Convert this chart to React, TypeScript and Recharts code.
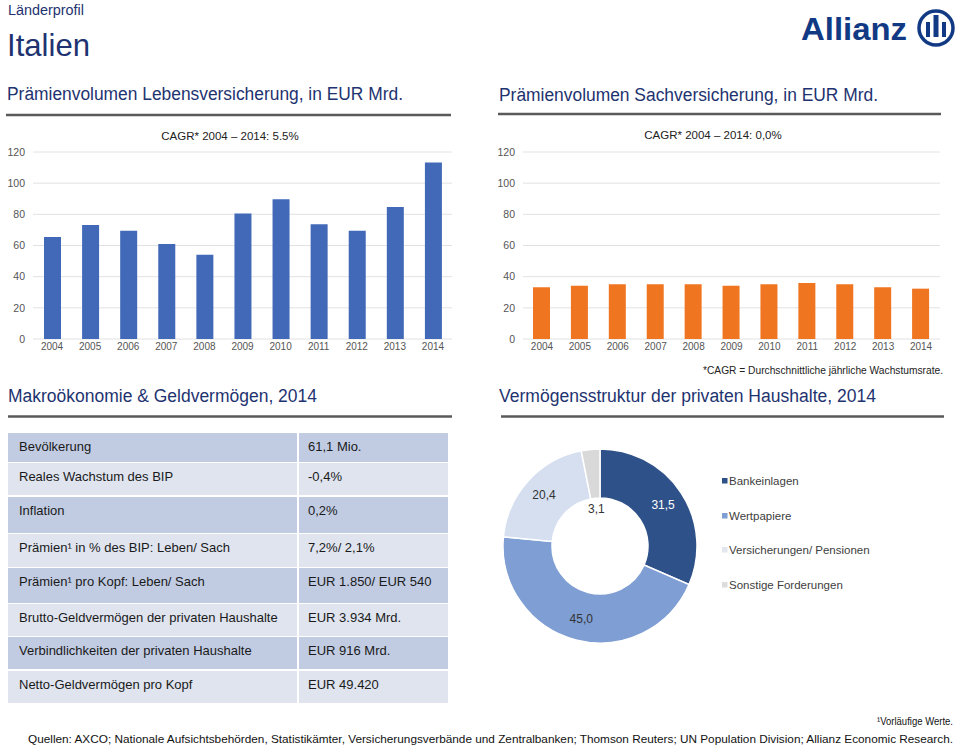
import React from 'react';
import { BarChart, Bar, XAxis, YAxis, CartesianGrid, PieChart, Pie, Cell } from 'recharts';

// ---------- data ----------
const years = ['2004', '2005', '2006', '2007', '2008', '2009', '2010', '2011', '2012', '2013', '2014'];
const lifePremiums = [65.5, 73.2, 69.5, 61.0, 54.1, 80.6, 89.6, 73.6, 69.5, 84.7, 113.2];
const propertyPremiums = [33.2, 34.2, 35.1, 35.1, 35.1, 34.2, 35.1, 35.9, 35.1, 33.2, 32.3];
const yTicks = [0, 20, 40, 60, 80, 100, 120];

const assetNames = ['Bankeinlagen', 'Wertpapiere', 'Versicherungen/ Pensionen', 'Sonstige Forderungen'];
const assetShares = [31.5, 45.0, 20.4, 3.1];
const assetColors = ['#2f5189', '#7f9ed4', '#d5dff0', '#d9d9d9'];
const legendSquareColors = ['#2f5189', '#7f9ed4', '#e2e6ee', '#dcdcdc'];
const assetLabelColors = ['#ffffff', '#333333', '#333333', '#333333'];

const tableLabels = [
  'Bevölkerung',
  'Reales Wachstum des BIP',
  'Inflation',
  'Prämien¹ in % des BIP: Leben/ Sach',
  'Prämien¹ pro Kopf: Leben/ Sach',
  'Brutto-Geldvermögen der privaten Haushalte',
  'Verbindlichkeiten der privaten Haushalte',
  'Netto-Geldvermögen pro Kopf',
];
const tableValues = [
  '61,1 Mio.',
  '-0,4%',
  '0,2%',
  '7,2%/ 2,1%',
  'EUR 1.850/ EUR 540',
  'EUR 3.934 Mrd.',
  'EUR 916 Mrd.',
  'EUR 49.420',
];

// ---------- layout / style ----------
const FONT = "'Liberation Sans', Arial, Helvetica, sans-serif";
const NAVY = '#1e3370';
const RULE = '#5a5a5a';
const rowTops = [433, 463, 497, 534, 568, 604, 637, 671];
const rowHeights = [29, 32, 36, 33, 35, 32, 32, 32];
const legendTops = [481, 516, 550, 585];

const lifeData = years.map((y, i) => ({ year: y, value: lifePremiums[i] }));
const propData = years.map((y, i) => ({ year: y, value: propertyPremiums[i] }));
const pieData = assetNames.map((n, i) => ({ name: n, value: assetShares[i] }));

const RAD = Math.PI / 180;
const renderPieLabel = (props: any) => {
  const { cx, cy, midAngle, innerRadius, outerRadius, value, index } = props;
  const r = value < 5 ? innerRadius - 11 : (innerRadius + outerRadius) / 2 + 3;
  const x = cx + r * Math.cos(-midAngle * RAD);
  const y = cy + r * Math.sin(-midAngle * RAD);
  return (
    <text
      x={x}
      y={y}
      textAnchor="middle"
      dominantBaseline="central"
      fill={assetLabelColors[index]}
      fontSize={12}
      fontFamily={FONT}
    >
      {Number(value).toFixed(1).replace('.', ',')}
    </text>
  );
};

const tickStyle = { fill: '#555555', fontSize: 10.5, fontFamily: FONT };
const xTickStyle = { fill: '#555555', fontSize: 10, fontFamily: FONT };

function PremiumChart({ data, color, left }: { data: any[]; color: string; left: number }) {
  return (
    <div style={{ position: 'absolute', left, top: 120 }}>
      <BarChart width={460} height={240} data={data} margin={{ top: 32, right: left > 0 ? 10 : 8, left: 0, bottom: 0 }}>
        <CartesianGrid vertical={false} stroke="#e2e2e2" />
        <XAxis
          dataKey="year"
          axisLine={false}
          tickLine={false}
          tickSize={0}
          tickMargin={4}
          height={21}
          interval={0}
          tick={xTickStyle}
        />
        <YAxis
          domain={[0, 120]}
          ticks={yTicks}
          axisLine={false}
          tickLine={false}
          width={33}
          tick={tickStyle}
        />
        <Bar dataKey="value" fill={color} barSize={17} isAnimationActive={false} />
      </BarChart>
    </div>
  );
}

export default function App() {
  return (
    <div
      style={{
        position: 'absolute',
        left: 0,
        top: 0,
        width: 960,
        height: 747,
        background: '#ffffff',
        fontFamily: FONT,
        overflow: 'hidden',
      }}
    >
      <svg width={960} height={747} style={{ position: 'absolute', left: 0, top: 0 }} fontFamily={FONT}>
        {/* Header */}
        <text x={8} y={10} dominantBaseline="central" fontSize={14} fill={NAVY} textLength={76} lengthAdjust="spacingAndGlyphs">
          Länderprofil
        </text>
        <text x={7} y={56} fontSize={32} fill={NAVY} textLength={83} lengthAdjust="spacingAndGlyphs">
          Italien
        </text>

        {/* Allianz logo */}
        <text x={801} y={40} fontSize={32} fontWeight="bold" fill="#123a84" textLength={106} lengthAdjust="spacingAndGlyphs">
          Allianz
        </text>
        <circle cx={936} cy={28} r={17} fill="none" stroke="#123a84" strokeWidth={3.5} />
        <rect x={926} y={22} width={4} height={15} fill="#123a84" />
        <rect x={933.5} y={15} width={5} height={22} fill="#123a84" />
        <rect x={942} y={22} width={4} height={15} fill="#123a84" />

        {/* Section titles */}
        <text x={7} y={94} dominantBaseline="central" fontSize={18} fill={NAVY} textLength={396} lengthAdjust="spacingAndGlyphs">
          Prämienvolumen Lebensversicherung, in EUR Mrd.
        </text>
        <text x={499} y={95} dominantBaseline="central" fontSize={18} fill={NAVY} textLength={379} lengthAdjust="spacingAndGlyphs">
          Prämienvolumen Sachversicherung, in EUR Mrd.
        </text>
        <line x1={6} x2={451} y1={115} y2={115} stroke={RULE} strokeWidth={2.5} />
        <line x1={498} x2={941} y1={114} y2={114} stroke={RULE} strokeWidth={2.5} />

        {/* CAGR chart titles */}
        <text x={230} y={136} textAnchor="middle" dominantBaseline="central" fontSize={11.5} fill="#222">
          CAGR* 2004 – 2014: 5.5%
        </text>
        <text x={713} y={135} textAnchor="middle" dominantBaseline="central" fontSize={11.5} fill="#222">
          CAGR* 2004 – 2014: 0,0%
        </text>

        <text x={703} y={370} dominantBaseline="central" fontSize={10} fill="#222" textLength={240} lengthAdjust="spacingAndGlyphs">
          *CAGR = Durchschnittliche jährliche Wachstumsrate.
        </text>

        <text x={8} y={396} dominantBaseline="central" fontSize={18} fill={NAVY} textLength={309} lengthAdjust="spacingAndGlyphs">
          Makroökonomie &amp; Geldvermögen, 2014
        </text>
        <text x={499} y={396} dominantBaseline="central" fontSize={18} fill={NAVY} textLength={377} lengthAdjust="spacingAndGlyphs">
          Vermögensstruktur der privaten Haushalte, 2014
        </text>
        <line x1={8} x2={452} y1={416.5} y2={416.5} stroke={RULE} strokeWidth={2.5} />
        <line x1={501} x2={944} y1={416.5} y2={416.5} stroke={RULE} strokeWidth={2.5} />

        {/* Table */}
        {tableLabels.map((lab, i) => {
          const top = rowTops[i];
          const h = rowHeights[i];
          const fill = i % 2 === 0 ? '#c1cce3' : '#dfe4ef';
          return (
            <g key={lab}>
              <rect x={8} y={top} width={289} height={h} fill={fill} />
              <rect x={299} y={top} width={149} height={h} fill={fill} />
              <text x={19} y={top + 13} dominantBaseline="central" fontSize={13} fill="#1a1a1a">
                {lab}
              </text>
              <text x={308} y={top + 13} dominantBaseline="central" fontSize={13} fill="#1a1a1a">
                {tableValues[i]}
              </text>
            </g>
          );
        })}

        {/* Donut legend */}
        {assetNames.map((n, i) => (
          <g key={n}>
            <rect x={722} y={legendTops[i] - 3} width={5.5} height={5.5} fill={legendSquareColors[i]} />
            <text x={729} y={legendTops[i]} dominantBaseline="central" fontSize={11.5} fill="#404040">
              {n}
            </text>
          </g>
        ))}

        {/* Footer */}
        <text x={877} y={721} dominantBaseline="central" fontSize={10.5} fill="#111" textLength={76} lengthAdjust="spacingAndGlyphs">
          ¹Vorläufige Werte.
        </text>
        <text x={28} y={739} dominantBaseline="central" fontSize={11} fill="#111" textLength={925} lengthAdjust="spacingAndGlyphs">
          Quellen: AXCO; Nationale Aufsichtsbehörden, Statistikämter, Versicherungsverbände und Zentralbanken; Thomson Reuters; UN Population Division; Allianz Economic Research.
        </text>
      </svg>

      <PremiumChart data={lifeData} color="#4169b7" left={0} />
      <PremiumChart data={propData} color="#f07521" left={490} />

      <div style={{ position: 'absolute', left: 490, top: 430 }}>
        <PieChart width={230} height={220} margin={{ top: 0, right: 0, bottom: 0, left: 0 }}>
          <Pie
            data={pieData}
            dataKey="value"
            nameKey="name"
            cx={110}
            cy={116}
            innerRadius={48}
            outerRadius={97}
            startAngle={90}
            endAngle={-270}
            stroke="#ffffff"
            strokeWidth={1.5}
            label={renderPieLabel}
            labelLine={false}
            isAnimationActive={false}
          >
            {pieData.map((d, i) => (
              <Cell key={d.name} fill={assetColors[i]} />
            ))}
          </Pie>
        </PieChart>
      </div>
    </div>
  );
}
